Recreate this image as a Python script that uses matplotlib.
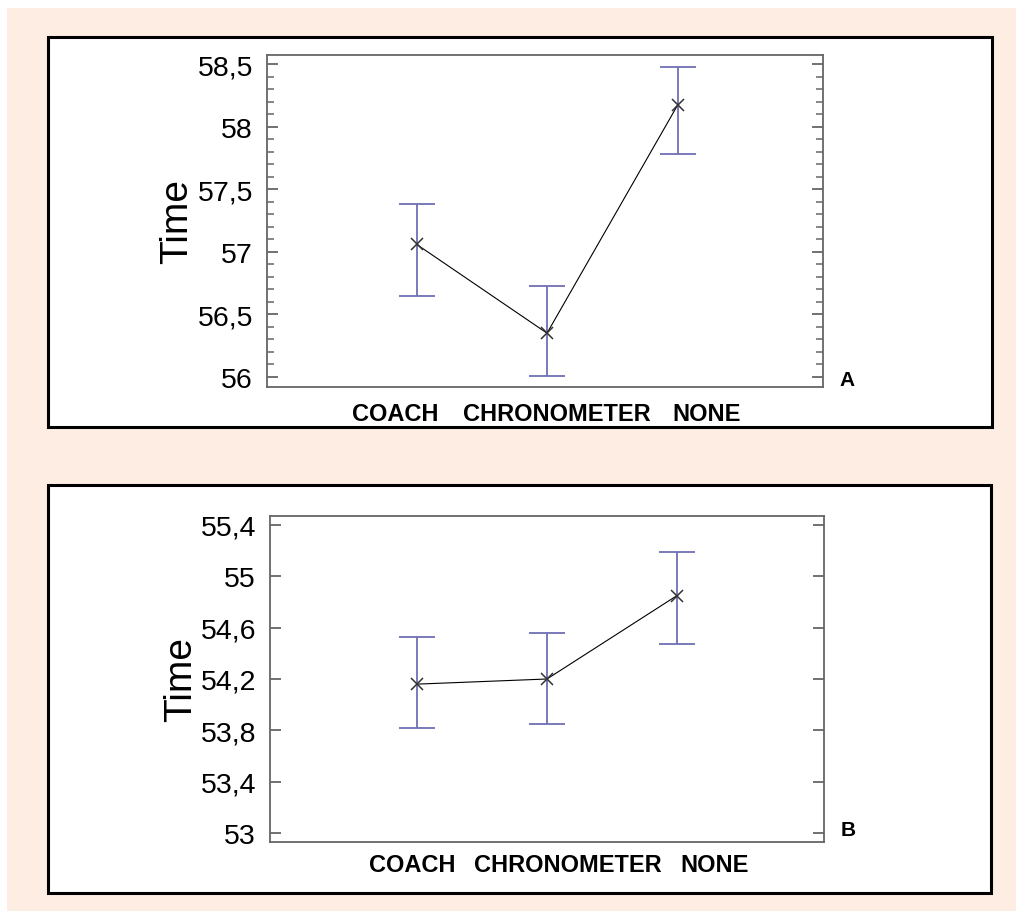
import matplotlib
matplotlib.use("Agg")
import matplotlib.pyplot as plt
from matplotlib.patches import Rectangle
from matplotlib.ticker import FixedLocator, MultipleLocator, FuncFormatter

# ---- data ----
categories = ["COACH", "CHRONOMETER", "NONE"]
a_mean = [57.06, 56.35, 58.17]
a_low = [56.65, 56.01, 57.78]
a_high = [57.38, 56.73, 58.48]
a_ticks = [56, 56.5, 57, 57.5, 58, 58.5]
b_mean = [54.16, 54.20, 54.85]
b_low = [53.82, 53.85, 54.47]
b_high = [54.53, 54.56, 55.19]
b_ticks = [53, 53.4, 53.8, 54.2, 54.6, 55, 55.4]
panel_letters = ["A", "B"]
ylabel = "Time"

plt.rcParams['font.family'] = ['Liberation Sans', 'DejaVu Sans']

W, H = 1016, 912
fig = plt.figure(figsize=(W / 100, H / 100), dpi=100)
fig.patch.set_facecolor("white")

def fx(px):
    return px / W

def fy(py):
    return 1 - py / H

# peach background
fig.patches.append(Rectangle((fx(7), 0), 1 - fx(7), fy(9), transform=fig.transFigure,
                             facecolor="#fdede3", edgecolor="none", zorder=-10))
# white panel boxes
for (x0, y0, x1, y1) in [(48, 38, 992, 428), (48, 486, 991, 894)]:
    fig.patches.append(Rectangle((fx(x0), fy(y1)), fx(x1) - fx(x0), fy(y0) - fy(y1),
                                 transform=fig.transFigure, facecolor="white",
                                 edgecolor="black", linewidth=2.2, zorder=-5))

fmt = FuncFormatter(lambda v, p: ("%g" % round(v, 2)).replace(".", ","))

def draw(rect, mean, low, high, ticks, ylim, xlim, minor, labx, labpad, ylab_x, letter, letter_xy):
    ax = fig.add_axes(rect)
    x = [1, 2, 3]
    yerr = [[m - l for m, l in zip(mean, low)], [h - m for m, h in zip(mean, high)]]
    ax.errorbar(x, mean, yerr=yerr, fmt="none", ecolor="#6f6fb5", elinewidth=1.3,
                capsize=13, capthick=1.3, zorder=2)
    ax.plot(x, mean, color="black", linewidth=0.8, zorder=3)
    ax.plot(x, mean, linestyle="none", marker="x", markersize=9, mew=1.1,
            color="#333333", zorder=4)
    ax.set_ylim(*ylim)
    ax.set_xlim(*xlim)
    ax.yaxis.set_major_locator(FixedLocator(ticks))
    if minor:
        ax.yaxis.set_minor_locator(MultipleLocator(minor))
    ax.yaxis.set_major_formatter(fmt)
    ax.tick_params(axis="y", which="major", direction="in", length=8, width=1.3,
                   color="#666666", labelsize=20.5, pad=10, left=True, right=True)
    ax.tick_params(axis="y", which="minor", direction="in", length=5, width=1.1,
                   color="#666666", left=True, right=True)
    ax.set_xticks(labx)
    ax.set_xticklabels(categories, fontsize=17, fontweight="bold")
    ax.tick_params(axis="x", length=0, pad=labpad)
    for s in ax.spines.values():
        s.set_color("#666666")
        s.set_linewidth(1.3)
    ax.set_ylabel(ylabel, fontsize=28)
    ax.yaxis.set_label_coords(ylab_x, 0.5)
    fig.text(fx(letter_xy[0]), fy(letter_xy[1]), letter, fontsize=15, fontweight="bold",
             ha="center", va="center")
    return ax

draw([fx(267), fy(388), fx(823) - fx(267), fy(56) - fy(388)], a_mean, a_low, a_high,
     a_ticks, (55.92, 58.572), (-0.146, 4.115), 0.1, [0.835, 2.077, 3.226], 11, -0.129,
     panel_letters[0], (847, 381))

draw([fx(270), fy(843), fx(824) - fx(270), fy(517) - fy(843)], b_mean, b_low, b_high,
     b_ticks, (52.93, 55.47), (-0.131, 4.131), None, [0.962, 2.162, 3.292], 8, -0.128,
     panel_letters[1], (848, 831))

fig.savefig("out.png", dpi=100)
